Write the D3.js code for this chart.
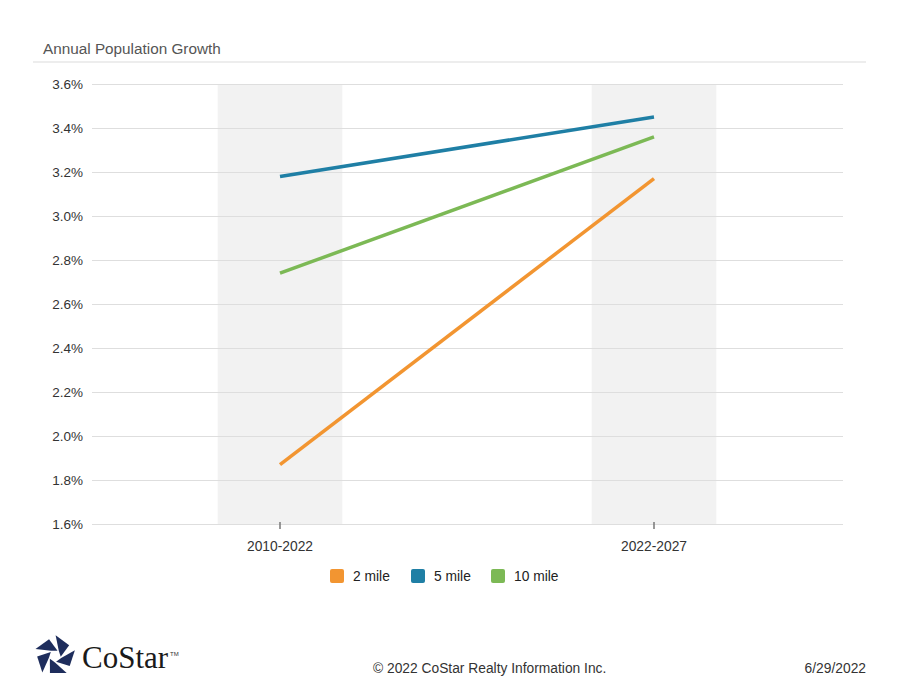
<!DOCTYPE html>
<html>
<head>
<meta charset="utf-8">
<script src="https://cdn.jsdelivr.net/npm/d3@7"></script>
<style>
  body { margin: 0; background: #fff; }
  svg { display: block; font-family: "Liberation Sans", Arial, sans-serif; }
</style>
</head>
<body>
<div id="chart"></div>
<script>
const periods = ["2010-2022", "2022-2027"];
const seriesNames = ["2 mile", "5 mile", "10 mile"];
const seriesColors = ["#f29531", "#1f7fa5", "#7cb955"];
const values2mi = [1.87, 3.17];
const values5mi = [3.18, 3.45];
const values10mi = [2.74, 3.36];
const yTicks = [1.6, 1.8, 2.0, 2.2, 2.4, 2.6, 2.8, 3.0, 3.2, 3.4, 3.6];

const series = [values2mi, values5mi, values10mi].map((v, i) => ({
  name: seriesNames[i], color: seriesColors[i],
  points: v.map((d, j) => ({ period: periods[j], value: d }))
}));

const W = 900, H = 695;
const plot = { left: 92, right: 843, top: 84, bottom: 524 };

const svg = d3.select("#chart").append("svg")
  .attr("width", W).attr("height", H);

// title
svg.append("text")
  .attr("x", 43).attr("y", 54)
  .attr("font-size", 15.3).attr("fill", "#555")
  .text("Annual Population Growth");
svg.append("line")
  .attr("x1", 33).attr("x2", 866).attr("y1", 62).attr("y2", 62)
  .attr("stroke", "#dcdcdc").attr("stroke-width", 1.2);

const x = d3.scaleBand().domain(periods)
  .range([93, 841]).paddingInner(2 / 3).paddingOuter(1 / 3);
const y = d3.scaleLinear().domain([1.6, 3.6]).range([plot.bottom, plot.top]);

// shaded bands
svg.append("g").selectAll("rect").data(periods).join("rect")
  .attr("x", d => x(d)).attr("width", x.bandwidth())
  .attr("y", plot.top).attr("height", plot.bottom - plot.top)
  .attr("fill", "#f2f2f2");

// y grid + labels
const yAxis = svg.append("g")
  .attr("transform", `translate(${plot.left},0)`)
  .call(d3.axisLeft(y).tickValues(yTicks)
    .tickSize(-(plot.right - plot.left)).tickPadding(9)
    .tickFormat(d => d.toFixed(1) + "%"));
yAxis.select(".domain").remove();
yAxis.selectAll(".tick line").attr("stroke", "#dedede");
yAxis.selectAll(".tick text").attr("font-size", 13.5).attr("fill", "#333")
  .attr("font-family", "Liberation Sans, Arial, sans-serif");

// x axis ticks
const xAxis = svg.append("g")
  .attr("transform", `translate(0,${plot.bottom})`)
  .call(d3.axisBottom(x).tickSize(5).tickPadding(12));
xAxis.select(".domain").remove();
xAxis.selectAll(".tick line").attr("stroke", "#777").attr("stroke-width", 1.5)
  .attr("y1", -2);
xAxis.selectAll(".tick text").attr("font-size", 13.8).attr("fill", "#333")
  .attr("font-family", "Liberation Sans, Arial, sans-serif");

// lines
const line = d3.line()
  .x(d => x(d.period) + x.bandwidth() / 2)
  .y(d => y(d.value));
svg.append("g").selectAll("path").data(series).join("path")
  .attr("d", d => line(d.points))
  .attr("fill", "none")
  .attr("stroke", d => d.color)
  .attr("stroke-width", 3.5);

// legend
const legendX = [330, 411, 491];
const lg = svg.append("g").selectAll("g").data(series).join("g")
  .attr("transform", (d, i) => `translate(${legendX[i]},569)`);
lg.append("rect").attr("width", 14).attr("height", 14).attr("rx", 2)
  .attr("fill", d => d.color);
lg.append("text").attr("x", 23).attr("y", 12)
  .attr("font-size", 13.8).attr("fill", "#222")
  .text(d => d.name);

// footer
svg.append("text")
  .attr("x", 373).attr("y", 673)
  .attr("font-size", 13.8).attr("fill", "#333")
  .text("\u00a9 2022 CoStar Realty Information Inc.");
svg.append("text")
  .attr("x", 866).attr("y", 673).attr("text-anchor", "end")
  .attr("font-size", 13.8).attr("fill", "#333")
  .text("6/29/2022");

// logo: pinwheel pentagon
const logo = svg.append("g").attr("transform", "translate(55,656)");
const R = 22, r = 6;
const ang = k => (-90 + 72 * k) * Math.PI / 180;
const P = k => [R * Math.cos(ang(k)), R * Math.sin(ang(k))];
const Q = k => [r * Math.cos(ang(k) + 0.63), r * Math.sin(ang(k) + 0.63)];
const lerp = (a, b, t) => [a[0] + (b[0] - a[0]) * t, a[1] + (b[1] - a[1]) * t];
for (let k = 0; k < 5; k++) {
  let pts = [P(k), lerp(P(k), P(k + 1), 0.72), Q(k + 1), Q(k)];
  const c = [d3.mean(pts, p => p[0]), d3.mean(pts, p => p[1])];
  pts = pts.map(p => lerp(c, p, 0.9));
  logo.append("path").attr("d", "M" + pts.join("L") + "Z").attr("fill", "#1e2d5c");
}
svg.append("text")
  .attr("x", 82).attr("y", 668)
  .attr("font-family", "Liberation Serif, DejaVu Serif, serif")
  .attr("font-size", 31).attr("fill", "#1a1a1a")
  .text("CoStar");
svg.append("text")
  .attr("x", 170).attr("y", 656)
  .attr("font-size", 6).attr("fill", "#333")
  .text("TM");
</script>
</body>
</html>
